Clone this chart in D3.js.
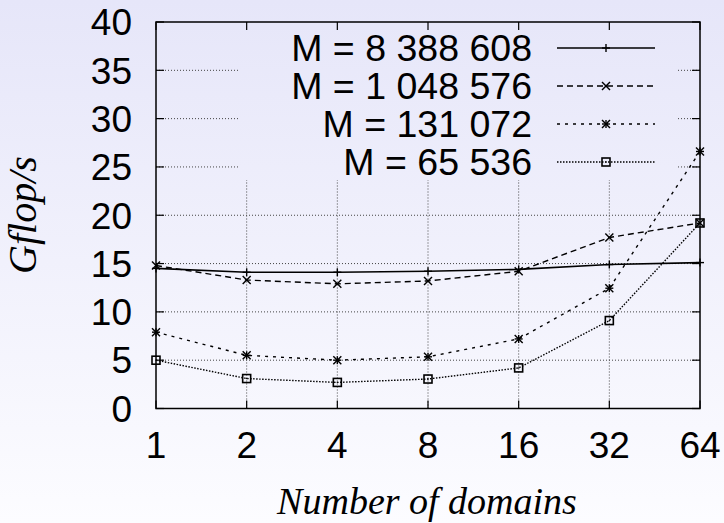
<!DOCTYPE html>
<html><head><meta charset="utf-8">
<script src="https://cdn.jsdelivr.net/npm/d3@7"></script>
<style>html,body{margin:0;padding:0;}svg{display:block;}</style>
</head><body>
<svg id="chart" width="724" height="523"></svg>
<script>
const domains = [1, 2, 4, 8, 16, 32, 64];
const seriesNames = ["M = 8 388 608", "M = 1 048 576", "M = 131 072", "M = 65 536"];
const s8388608 = [14.5, 14.1, 14.1, 14.2, 14.4, 14.9, 15.1];
const s1048576 = [14.8, 13.3, 12.9, 13.2, 14.2, 17.7, 19.2];
const s131072 = [7.9, 5.5, 5.0, 5.35, 7.2, 12.45, 26.6];
const s65536 = [5.0, 3.1, 2.7, 3.05, 4.2, 9.1, 19.2];
const yTicks = [0, 5, 10, 15, 20, 25, 30, 35, 40];

const allSeries = [s8388608, s1048576, s131072, s65536];
const dashes = [null, "6,4", "3,5", "1.5,1.5"];
const markers = ["plus", "cross", "star", "square"];

const svg = d3.select("#chart");
const W = 724, H = 523;
const L = 156, R = 700, T = 22, B = 408.5;

const defs = svg.append("defs");
const grad = defs.append("linearGradient").attr("id", "bg")
  .attr("gradientUnits", "userSpaceOnUse").attr("x1", 0).attr("y1", 0).attr("x2", 0).attr("y2", H);
grad.append("stop").attr("offset", "0%").attr("stop-color", "#e6e6f9");
grad.append("stop").attr("offset", "100%").attr("stop-color", "#fcfcff");

svg.append("rect").attr("width", W).attr("height", H).attr("fill", "url(#bg)");

const x = d3.scaleLog().base(2).domain([1, 64]).range([L, R]);
const y = d3.scaleLinear().domain([0, 40]).range([B, T]);

// grid
const grid = svg.append("g").attr("stroke", "#444").attr("stroke-width", 1).attr("stroke-dasharray", "1,2");
grid.selectAll("line.v").data(domains.slice(1, -1)).join("line")
  .attr("class", "v")
  .attr("x1", d => x(d)).attr("x2", d => x(d)).attr("y1", B).attr("y2", T);
grid.selectAll("line.h").data(yTicks.slice(1, -1)).join("line")
  .attr("class", "h")
  .attr("x1", L).attr("x2", R).attr("y1", d => y(d)).attr("y2", d => y(d));

// legend cover box
svg.append("rect").attr("x", 239).attr("y", T).attr("width", 678 - 239).attr("height", 180 - T).attr("fill", "url(#bg)");

// markers
function drawMarker(g, type, cx, cy) {
  const s = 4;
  const m = g.append("g").attr("transform", `translate(${cx},${cy})`).attr("stroke", "#000").attr("stroke-width", 1.4).attr("fill", "none");
  if (type === "plus" || type === "star") {
    m.append("line").attr("x1", -s).attr("x2", s).attr("y1", 0).attr("y2", 0);
    m.append("line").attr("x1", 0).attr("x2", 0).attr("y1", -s).attr("y2", s);
  }
  if (type === "cross" || type === "star") {
    m.append("line").attr("x1", -s).attr("x2", s).attr("y1", -s).attr("y2", s);
    m.append("line").attr("x1", -s).attr("x2", s).attr("y1", s).attr("y2", -s);
  }
  if (type === "square") {
    m.append("rect").attr("x", -s).attr("y", -s).attr("width", 2 * s).attr("height", 2 * s).attr("stroke-width", 1.6);
    m.append("rect").attr("x", -0.6).attr("y", -0.6).attr("width", 1.2).attr("height", 1.2).attr("fill", "#000").attr("stroke", "none");
  }
}

const line = d3.line().x(d => x(d[0])).y(d => y(d[1]));
allSeries.forEach((vals, i) => {
  const pts = domains.map((d, j) => [d, vals[j]]);
  svg.append("path").datum(pts).attr("d", line)
    .attr("fill", "none").attr("stroke", "#000").attr("stroke-width", i === 0 ? 1.6 : 1.4)
    .attr("stroke-dasharray", dashes[i]);
  const mg = svg.append("g");
  pts.forEach(p => drawMarker(mg, markers[i], x(p[0]), y(p[1])));
});

// border and ticks
svg.append("rect").attr("x", L).attr("y", T).attr("width", R - L).attr("height", B - T)
  .attr("fill", "none").attr("stroke", "#000").attr("stroke-width", 1.5);
const ticks = svg.append("g").attr("stroke", "#000").attr("stroke-width", 1.2);
const tl = 8;
domains.forEach(d => {
  ticks.append("line").attr("x1", x(d)).attr("x2", x(d)).attr("y1", B).attr("y2", B - tl);
  ticks.append("line").attr("x1", x(d)).attr("x2", x(d)).attr("y1", T).attr("y2", T + tl);
});
yTicks.forEach(v => {
  ticks.append("line").attr("x1", L).attr("x2", L + tl).attr("y1", y(v)).attr("y2", y(v));
  ticks.append("line").attr("x1", R).attr("x2", R - tl).attr("y1", y(v)).attr("y2", y(v));
});

// tick labels
const sans = "'Liberation Sans', Arial, sans-serif";
svg.append("g").selectAll("text").data(yTicks).join("text")
  .attr("x", 132).attr("y", d => y(d) + 13.3).attr("text-anchor", "end")
  .attr("font-family", sans).attr("font-size", 37).attr("fill", "#000").text(d => d);
svg.append("g").selectAll("text").data(domains).join("text")
  .attr("x", d => x(d)).attr("y", 458).attr("text-anchor", "middle")
  .attr("font-family", sans).attr("font-size", 37).attr("fill", "#000").text(d => d);

// axis titles
const serif = "'Liberation Serif', 'Times New Roman', serif";
svg.append("text").attr("x", 427).attr("y", 514).attr("text-anchor", "middle")
  .attr("font-family", serif).attr("font-style", "italic").attr("font-size", 38).attr("fill", "#000")
  .text("Number of domains");
svg.append("text").attr("transform", "translate(36,215) rotate(-90)").attr("text-anchor", "middle")
  .attr("font-family", serif).attr("font-style", "italic").attr("font-size", 40).attr("fill", "#000")
  .text("Gflop/s");

// legend
const legY = [48, 86, 124, 162];
seriesNames.forEach((name, i) => {
  svg.append("text").attr("x", 532).attr("y", legY[i] + 13.3).attr("text-anchor", "end")
    .attr("font-family", sans).attr("font-size", 37.5).attr("fill", "#000").text(name);
  svg.append("line").attr("x1", 557).attr("x2", 655).attr("y1", legY[i]).attr("y2", legY[i])
    .attr("stroke", "#000").attr("stroke-width", i === 0 ? 1.6 : 1.4).attr("stroke-dasharray", dashes[i]);
  drawMarker(svg.append("g"), markers[i], 606, legY[i]);
});
</script>
</body></html>
